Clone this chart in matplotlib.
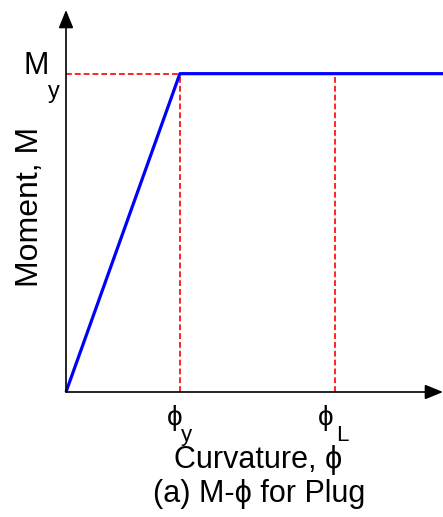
import matplotlib.pyplot as plt

plt.rcParams['font.family'] = ['Liberation Sans', 'DejaVu Sans']

# M-phi relation for plug (idealised elastic-perfectly plastic)
curvature = [0.0, 1.0, 3.31]
moment = [0.0, 1.0, 1.0]
phi_y = 1.0
phi_L = 2.36
M_y = 1.0
x_max = 3.31
y_max = 1.2
PHI = '\u03d5'

W, H = 443, 517
fig = plt.figure(figsize=(W / 100, H / 100), dpi=100)
x0, y0 = 66, 392   # origin in pixels
ax = fig.add_axes([x0 / W, (H - y0) / H, (W - x0) / W, (y0 - 10) / H])
ax.set_xlim(0, x_max)
ax.set_ylim(0, y_max)
ax.axis('off')

# reference dashed lines
red = dict(color='#ff0000', lw=1.2, dashes=(3.5, 1.8), clip_on=False)
ax.plot([0, phi_y], [M_y, M_y], **red)
ax.plot([phi_y, phi_y], [0, M_y], **red)
ax.plot([phi_L, phi_L], [0, M_y], **red)

# M-phi curve
ax.plot(curvature, moment, color='#0000ff', lw=2.3, solid_capstyle='butt', clip_on=False)

# axes with arrows
arrow = dict(arrowstyle='-|>,head_length=1.1,head_width=0.45', color='black', lw=1.2,
             shrinkA=0, shrinkB=0)
ax.annotate('', xy=(x_max, 0), xytext=(0, 0), arrowprops=arrow, annotation_clip=False)
ax.annotate('', xy=(0, y_max), xytext=(0, 0), arrowprops=arrow, annotation_clip=False)

fs = 22
ax.text(-0.15, M_y, 'M', fontsize=fs, ha='right', va='baseline')
ax.text(-0.16, M_y - 0.075, 'y', fontsize=17, ha='left', va='baseline')

for xv, sub, dx in [(phi_y, 'y', -0.045), (phi_L, 'L', -0.08)]:
    ax.text(xv + dx, -0.105, PHI, fontsize=20, ha='center', va='baseline')
    ax.text(xv + 0.01, -0.155, sub, fontsize=16, ha='left', va='baseline')

fig.text(258 / W, 1 - 468 / H, 'Curvature, ' + PHI, fontsize=fs, ha='center', va='baseline')
fig.text(259 / W, 1 - 502 / H, '(a) M-' + PHI + ' for Plug', fontsize=fs, ha='center', va='baseline')
fig.text(30 / W, 1 - 207 / H, 'Moment, M', fontsize=23, ha='center', va='center', rotation=90)

fig.savefig('out.png', dpi=100)
